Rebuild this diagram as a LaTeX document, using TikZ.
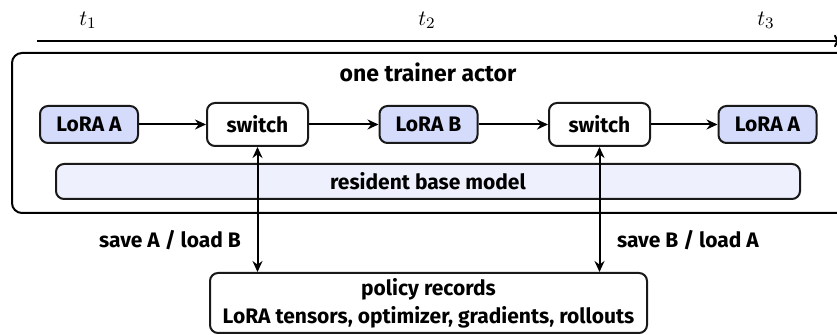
\documentclass[tikz,border=0pt]{standalone}
\usepackage{fontspec}
\setmainfont{Fira Sans}
\usetikzlibrary{arrows.meta}
\definecolor{lorafill}{HTML}{D4DBFB}
\definecolor{basefill}{HTML}{EEF1FD}
\begin{document}
\begin{tikzpicture}[x=0.5pt,y=-0.5pt,
  every node/.style={font=\fontsize{10.5}{14}\selectfont\bfseries},
  box/.style={draw=black!90, line width=1pt, rounded corners=4pt, align=center, inner sep=0pt},
  lora/.style={box, fill=lorafill, minimum width=49pt, minimum height=18.5pt},
  sw/.style={box, fill=white, minimum width=50.5pt, minimum height=21.5pt},
  tip/.style={Stealth[length=5.5pt,width=5pt,inset=1.8pt]},
  arr/.style={line width=1pt, -{Stealth[length=5.5pt,width=5pt,inset=1.8pt]}},
  darr/.style={line width=1pt, {Stealth[length=5.5pt,width=5pt,inset=1.8pt]}-{Stealth[length=5.5pt,width=5pt,inset=1.8pt]}},
  tlab/.style={font=\fontsize{11}{12}\selectfont}]
\useasboundingbox (0,0) rectangle (837,335);
% timeline
\coordinate (tl0) at (37,41);
\coordinate (tl1) at (840,41);
\draw[line width=1pt, -{To[length=3pt]}] (tl0) -- (tl1);
\node[tlab] (t1) at (88,20) {$t_1$};
\node[tlab] (t2) at (427,20) {$t_2$};
\node[tlab] (t3) at (766,20) {$t_3$};
% outer box
\draw[line width=1pt, rounded corners=5pt] (12,53) rectangle (860,213);
\node[font=\fontsize{11.5}{14}\selectfont\bfseries] (title) at (428,72) {one trainer actor};
% row
\node[lora] (la) at (89,124.5) {LoRA A};
\node[sw] (s1) at (257.5,124.5) {switch};
\node[lora] (lb) at (428.5,124.5) {LoRA B};
\node[sw] (s2) at (599.5,124.5) {switch};
\node[lora] (la2) at (767.5,124.5) {LoRA A};
\draw[arr] (la) -- (s1);
\draw[arr] (s1) -- (lb);
\draw[arr] (lb) -- (s2);
\draw[arr] (s2) -- (la2);
% base model
\node[box, fill=basefill, minimum width=372pt, minimum height=17.5pt] (base) at (428,181.5) {resident base model};
% policy records
\node[box, fill=white, minimum width=218.5pt, minimum height=30pt] (pol) at (428.5,303) {policy records\\LoRA tensors, optimizer, gradients, rollouts};
\draw[darr] (s1.south) -- (s1.south |- pol.north);
\draw[darr] (s2.south) -- (s2.south |- pol.north);
\node[anchor=east] (l1) at (248,240) {save A / load B};
\node[anchor=west] (l2) at (610,240) {save B / load A};
\end{tikzpicture}
\end{document}
